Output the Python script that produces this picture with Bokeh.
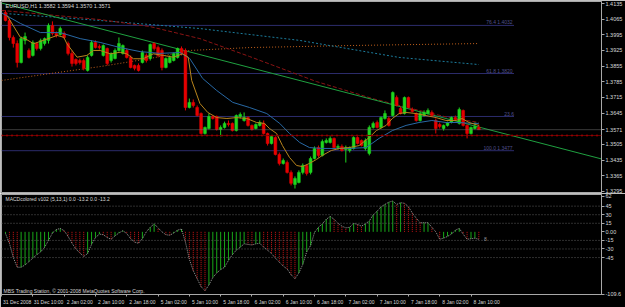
from bokeh.plotting import figure
from bokeh.layouts import column
from bokeh.models import (Range1d, FixedTicker, Label, Span, ColumnDataSource,
                          PrintfTickFormatter, CustomJSTickFormatter)
from bokeh.embed import file_html
from bokeh.resources import INLINE
from bokeh.core.properties import value

# ---------------- data ----------------
symbol = "EURUSD,H1"

bar_open = [1.4095, 1.4059, 1.3983, 1.3956, 1.3871, 1.3970, 1.3925, 1.3903, 1.3956, 1.3934,
            1.3956, 1.3970, 1.4037, 1.4001, 1.3996, 1.4001, 1.3956, 1.3912, 1.3885, 1.3880,
            1.3880, 1.3836, 1.3903, 1.3961, 1.3943, 1.3903, 1.3934, 1.3880, 1.3889, 1.3925,
            1.3912, 1.3925, 1.3894, 1.3858, 1.3858, 1.3871, 1.3903, 1.3889, 1.3956, 1.3938,
            1.3925, 1.3849, 1.3871, 1.3880, 1.3894, 1.3934, 1.3925, 1.3670, 1.3693, 1.3670,
            1.3643, 1.3554, 1.3576, 1.3630, 1.3630, 1.3572, 1.3581, 1.3599, 1.3599, 1.3567,
            1.3630, 1.3612, 1.3625, 1.3590, 1.3576, 1.3590, 1.3599, 1.3554, 1.3509, 1.3536,
            1.3460, 1.3420, 1.3424, 1.3380, 1.3326, 1.3335, 1.3380, 1.3411, 1.3380, 1.3442,
            1.3491, 1.3456, 1.3514, 1.3514, 1.3532, 1.3491, 1.3496, 1.3482, 1.3478, 1.3487,
            1.3536, 1.3523, 1.3487, 1.3465, 1.3581, 1.3603, 1.3581, 1.3621, 1.3621, 1.3634,
            1.3715, 1.3666, 1.3643, 1.3715, 1.3661, 1.3643, 1.3612, 1.3634, 1.3643, 1.3648,
            1.3612, 1.3594, 1.3576, 1.3590, 1.3603, 1.3625, 1.3599, 1.3657, 1.3590, 1.3554,
            1.3576, 1.3582]
bar_high = [1.4104, 1.4068, 1.3992, 1.3970, 1.3987, 1.4005, 1.3934, 1.3970, 1.3961, 1.3978,
            1.3983, 1.4046, 1.4055, 1.4010, 1.4032, 1.4010, 1.3965, 1.3925, 1.3889, 1.3889,
            1.3889, 1.3903, 1.3970, 1.3970, 1.3952, 1.3952, 1.3938, 1.3916, 1.3934, 1.3983,
            1.3952, 1.3934, 1.3903, 1.3862, 1.3867, 1.3925, 1.3912, 1.3956, 1.3961, 1.3947,
            1.3934, 1.3894, 1.3903, 1.3916, 1.3938, 1.3943, 1.3934, 1.3710, 1.3706, 1.3679,
            1.3648, 1.3585, 1.3643, 1.3634, 1.3634, 1.3590, 1.3607, 1.3612, 1.3603, 1.3639,
            1.3648, 1.3648, 1.3630, 1.3594, 1.3599, 1.3612, 1.3612, 1.3558, 1.3545, 1.3541,
            1.3469, 1.3442, 1.3433, 1.3389, 1.3362, 1.3389, 1.3420, 1.3415, 1.3451, 1.3496,
            1.3500, 1.3527, 1.3532, 1.3541, 1.3536, 1.3505, 1.3505, 1.3500, 1.3496, 1.3541,
            1.3541, 1.3527, 1.3532, 1.3590, 1.3607, 1.3612, 1.3630, 1.3657, 1.3630, 1.3742,
            1.3724, 1.3675, 1.3719, 1.3719, 1.3670, 1.3648, 1.3652, 1.3657, 1.3666, 1.3657,
            1.3621, 1.3603, 1.3594, 1.3607, 1.3630, 1.3634, 1.3670, 1.3661, 1.3594, 1.3585,
            1.3603, 1.3594]
bar_low = [1.4055, 1.3970, 1.3938, 1.3849, 1.3867, 1.3952, 1.3889, 1.3898, 1.3925, 1.3925,
           1.3947, 1.3956, 1.3992, 1.3983, 1.3992, 1.3978, 1.3903, 1.3853, 1.3858, 1.3862,
           1.3836, 1.3831, 1.3898, 1.3934, 1.3929, 1.3898, 1.3858, 1.3871, 1.3885, 1.3920,
           1.3907, 1.3889, 1.3845, 1.3836, 1.3831, 1.3867, 1.3871, 1.3880, 1.3925, 1.3894,
           1.3836, 1.3845, 1.3867, 1.3876, 1.3889, 1.3903, 1.3657, 1.3666, 1.3670, 1.3630,
           1.3549, 1.3549, 1.3572, 1.3616, 1.3567, 1.3541, 1.3576, 1.3585, 1.3563, 1.3563,
           1.3621, 1.3607, 1.3585, 1.3567, 1.3572, 1.3585, 1.3549, 1.3500, 1.3505, 1.3456,
           1.3411, 1.3415, 1.3375, 1.3322, 1.3308, 1.3331, 1.3371, 1.3366, 1.3371, 1.3438,
           1.3447, 1.3451, 1.3509, 1.3509, 1.3487, 1.3482, 1.3473, 1.3424, 1.3469, 1.3482,
           1.3505, 1.3496, 1.3478, 1.3456, 1.3576, 1.3576, 1.3576, 1.3616, 1.3585, 1.3630,
           1.3675, 1.3639, 1.3639, 1.3666, 1.3648, 1.3607, 1.3607, 1.3630, 1.3639, 1.3630,
           1.3554, 1.3576, 1.3567, 1.3585, 1.3599, 1.3612, 1.3594, 1.3585, 1.3532, 1.3549,
           1.3572, 1.3570]
bar_close = [1.4059, 1.3983, 1.3956, 1.3871, 1.3978, 1.3987, 1.3894, 1.3961, 1.3934, 1.3970,
             1.3978, 1.4037, 1.4001, 1.3992, 1.4023, 1.3983, 1.3912, 1.3867, 1.3867, 1.3871,
             1.3845, 1.3894, 1.3961, 1.3938, 1.3938, 1.3947, 1.3867, 1.3912, 1.3925, 1.3956,
             1.3947, 1.3894, 1.3849, 1.3845, 1.3836, 1.3916, 1.3880, 1.3952, 1.3934, 1.3903,
             1.3849, 1.3889, 1.3894, 1.3912, 1.3934, 1.3912, 1.3670, 1.3693, 1.3679, 1.3634,
             1.3554, 1.3581, 1.3630, 1.3621, 1.3572, 1.3581, 1.3599, 1.3594, 1.3567, 1.3634,
             1.3639, 1.3625, 1.3590, 1.3572, 1.3594, 1.3603, 1.3554, 1.3509, 1.3541, 1.3460,
             1.3420, 1.3433, 1.3380, 1.3331, 1.3353, 1.3380, 1.3411, 1.3375, 1.3442, 1.3487,
             1.3456, 1.3518, 1.3523, 1.3532, 1.3491, 1.3496, 1.3478, 1.3491, 1.3491, 1.3536,
             1.3509, 1.3500, 1.3523, 1.3581, 1.3599, 1.3581, 1.3625, 1.3643, 1.3590, 1.3737,
             1.3679, 1.3643, 1.3715, 1.3670, 1.3652, 1.3612, 1.3643, 1.3648, 1.3657, 1.3634,
             1.3576, 1.3585, 1.3590, 1.3603, 1.3625, 1.3616, 1.3661, 1.3590, 1.3554, 1.3581,
             1.3585, 1.3571]

macd_hist = [-3, -20, -45, -62, -62, -58, -52, -46, -40, -35,
             -27, -15, -2, 4, 6, 2, -8, -20, -30, -37,
             -43, -38, -22, -10, -4, -5, -10, -13, -7, -2,
             2, -3, -12, -18, -20, -12, 0, 8, 14, 7,
             0, -5, -6, -2, 3, 5, -18, -48, -68, -82,
             -96, -103, -93, -80, -72, -66, -62, -50, -40, -32,
             -27, -21, -22, -23, -21, -20, -27, -32, -38, -46,
             -53, -60, -65, -75, -82, -72, -57, -35, -24, -1,
             8, 14, 22, 27, 22, 15, 10, 7, 8, 15,
             13, 10, 14, 19, 30, 36, 44, 48, 52, 54,
             48, 51, 50, 44, 33, 24, 16, 16, 16, 8,
             0, -13, -11, -8, -4, 3, 6, -4, -13, -12,
             -11, -13.2]

# moving-average lines, read at points along each line (bar position, price)
ma_fast_bars = [0.4, 3.8, 5.1, 7.2, 13.2, 14.9, 15.7, 18.3, 20.8, 22.5, 24.2, 26.8, 29.3,
                31.0, 32.7, 35.2, 37.8, 40.3, 42.9, 45.3, 46.7, 47.6, 49.7, 51.7, 54.0,
                56.6, 59.1, 61.7, 64.2, 66.2, 67.5, 69.3, 70.8, 72.6, 74.4, 75.9, 77.7,
                79.5, 81.0, 83.3, 85.4, 87.9, 90.4, 93.0, 94.8, 97.3, 98.9, 100.6, 102.4,
                105.0, 107.5, 110.1, 112.6, 115.2, 116.7, 118.5, 121.0]
ma_fast = [1.4081, 1.3984, 1.3977, 1.3955, 1.3992, 1.3984, 1.3955, 1.3895, 1.3903, 1.3925,
           1.3925, 1.3910, 1.3917, 1.3910, 1.3888, 1.3888, 1.3910, 1.3903, 1.3895, 1.3910,
           1.3895, 1.3791, 1.3688, 1.3648, 1.3625, 1.3621, 1.3625, 1.3621, 1.3603, 1.3599,
           1.3576, 1.3554, 1.3500, 1.3447, 1.3411, 1.3406, 1.3420, 1.3438, 1.3456, 1.3478,
           1.3487, 1.3491, 1.3500, 1.3536, 1.3567, 1.3590, 1.3621, 1.3643, 1.3648, 1.3643,
           1.3634, 1.3625, 1.3612, 1.3612, 1.3621, 1.3603, 1.3590]

ma_slow_bars = [-1.0, 3.8, 8.9, 14.0, 19.1, 24.2, 29.3, 34.4, 39.5, 44.6, 47.1, 50.4, 54.0,
                58.1, 62.4, 66.8, 70.1, 72.6, 75.2, 77.7, 81.0, 84.6, 87.9, 92.2, 95.5,
                98.9, 102.4, 105.7, 109.0, 112.6, 115.9, 119.2, 121.0]
ma_slow = [1.4093, 1.4046, 1.4005, 1.4005, 1.3978, 1.3961, 1.3938, 1.3920, 1.3912, 1.3916,
           1.3889, 1.3800, 1.3746, 1.3693, 1.3670, 1.3643, 1.3599, 1.3554, 1.3514, 1.3491,
           1.3487, 1.3487, 1.3487, 1.3491, 1.3532, 1.3567, 1.3590, 1.3603, 1.3612, 1.3603,
           1.3603, 1.3599, 1.3599]

ma_red_bars = [-1.0, 24.2, 36.9, 49.7, 62.4, 79.5, 85.4, 93.8, 105.7, 113.4, 121.0]
ma_red = [1.4104, 1.4063, 1.4032, 1.3978, 1.3898, 1.3786, 1.3755, 1.3710, 1.3657, 1.3625, 1.3603]

ma_orange_bars = [-1.0, 11.5, 24.2, 36.9, 47.1, 62.4, 87.9, 121.0]
ma_orange = [1.3791, 1.3822, 1.3853, 1.3889, 1.3925, 1.3938, 1.3947, 1.3956]

ma_cyan_bars = [0.0, 24.2, 49.7, 75.2, 100.6, 121.0]
ma_cyan = [1.4090, 1.4059, 1.4023, 1.3970, 1.3894, 1.3862]

trend_bars = [-1.0, 152.4]
trend_prices = [1.4137, 1.3440]

fib_levels = [1.4037, 1.3822, 1.3630, 1.3477]
fib_labels = ["76.4  1.4032", "61.8  1.3820", "23.6", "100.0  1.3477"]
fib_bars = [-1.0, 130.0]

order_level = 1.3545

price_ticks = [1.4135, 1.4065, 1.3995, 1.3925, 1.3855, 1.3785, 1.3715,
               1.3645, 1.3575, 1.3505, 1.3435, 1.3365, 1.3295]
macd_ticks = [62, 45, 30, 15, 0, -15, -30, -45, -109.6]
macd_levels = [45, 30, 15, -15, -30, -45]

x_label_bars = [-1, 7, 15, 23, 31, 39, 47, 55, 63, 71, 79, 87, 95, 103, 111, 119]
x_labels = ["31 Dec 2008", "31 Dec 10:00", "2 Jan 02:00", "2 Jan 10:00", "2 Jan 18:00",
            "5 Jan 02:00", "5 Jan 10:00", "5 Jan 18:00", "6 Jan 02:00", "6 Jan 10:00",
            "6 Jan 18:00", "7 Jan 02:00", "7 Jan 10:00", "7 Jan 18:00", "8 Jan 02:00",
            "8 Jan 10:00"]

copyright_text = "MBS Trading Station, \u00a9 2001-2008 MetaQuotes Software Corp."

# ---------------- styling ----------------
FONT = "Liberation Sans"
BG = "#000000"
FG = "#a8a8a8"
TXT = "#d8d8d8"
BULL = "#1fd61f"
BEAR = "#e60000"

bars = list(range(len(bar_close)))
x_rng = Range1d(-1.02, 152.36)
y_rng = Range1d(1.32857, 1.41439)


def style_axis(ax, size="5.5px"):
    ax.axis_line_color = FG
    ax.major_tick_line_color = FG
    ax.minor_tick_line_color = None
    ax.major_tick_out = 3
    ax.major_tick_in = 0
    ax.major_label_standoff = 1
    ax.major_label_text_font = FONT
    ax.major_label_text_font_size = size
    ax.major_label_text_color = TXT


# ---------------- price panel ----------------
p = figure(width=625, height=193, x_range=x_rng, y_range=y_rng,
           output_backend="svg", toolbar_location=None,
           x_axis_location=None, y_axis_location="right",
           min_border_left=1, min_border_right=22, min_border_top=1, min_border_bottom=0,
           background_fill_color=BG, border_fill_color=BG, outline_line_color=FG)
p.grid.visible = False
yax = p.yaxis[0]
# the current price replaces the scale label it would cover
axis_ticks = [t for t in price_ticks if abs(t - bar_close[-1]) > 0.0005] + [bar_close[-1]]
yax.ticker = FixedTicker(ticks=axis_ticks)
yax.formatter = PrintfTickFormatter(format="%.4f")
style_axis(yax)

# fibonacci levels
p.segment(x0=[fib_bars[0]] * len(fib_levels), x1=[fib_bars[1]] * len(fib_levels),
          y0=fib_levels, y1=fib_levels, line_color="#2c2c6c", line_width=1)
p.text(x=[fib_bars[1]] * len(fib_levels), y=fib_levels, text=fib_labels,
       text_align="right", text_baseline="bottom", text_font=value(FONT),
       text_font_size="5px", text_color="#50508c")

# bid and order lines
p.add_layout(Span(location=bar_close[-1], dimension="width", line_color="#707070",
                  line_dash="1 1", line_width=1))
p.add_layout(Span(location=order_level, dimension="width", line_color="#6a0000", line_width=1))
p.add_layout(Span(location=order_level, dimension="width", line_color="#c00000",
                  line_dash="1 4", line_width=2))

# long moving averages and trend line
p.line(ma_orange_bars, ma_orange, line_color="#c0601c", line_dash="1 2", line_width=1)
p.line(ma_cyan_bars, ma_cyan, line_color="#1c7c9c", line_dash="2 2", line_width=1)
p.line(ma_red_bars, ma_red, line_color="#8a1414", line_dash="4 2", line_width=1)
p.line(trend_bars, trend_prices, line_color="#1fa040", line_width=1)

# candles
colors = [BULL if c >= o else BEAR for o, c in zip(bar_open, bar_close)]
src = ColumnDataSource(dict(
    x=bars, h=bar_high, l=bar_low,
    top=[max(o, c) for o, c in zip(bar_open, bar_close)],
    bottom=[min(o, c) for o, c in zip(bar_open, bar_close)],
    color=colors))
p.segment(x0="x", x1="x", y0="h", y1="l", line_color="color", line_width=1, source=src)
p.vbar(x="x", top="top", bottom="bottom", width=0.72, fill_color="color",
       line_color="color", line_width=0.5, source=src)

# short moving averages
p.line(ma_slow_bars, ma_slow, line_color="#2868a4", line_width=1)
p.line(ma_fast_bars, ma_fast, line_color="#b8841c", line_width=1)

p.add_layout(Label(x=0, y=1.4124, text="%s  %.4f %.4f %.4f %.4f" % (
    symbol, bar_open[-1], bar_high[-1], bar_low[-1], bar_close[-1]),
    text_font=FONT, text_font_size="5.5px", text_color=TXT, text_baseline="middle"))

# ---------------- MACD panel ----------------
q = figure(width=625, height=114, x_range=x_rng, y_range=Range1d(-109.7, 65.4),
           output_backend="svg", toolbar_location=None,
           x_axis_location="below", y_axis_location="right",
           min_border_left=1, min_border_right=22, min_border_top=1, min_border_bottom=9,
           background_fill_color=BG, border_fill_color=BG, outline_line_color=FG)
q.grid.visible = False
qy = q.yaxis[0]
qy.ticker = FixedTicker(ticks=macd_ticks)
qy.formatter = CustomJSTickFormatter(code="return tick == 0 ? '0.00' : String(tick);")
style_axis(qy)

qx = q.xaxis[0]
label_ticks = [b + 4 for b in x_label_bars]
qx.ticker = FixedTicker(ticks=label_ticks, minor_ticks=x_label_bars)
qx.major_label_overrides = {t: s for t, s in zip(label_ticks, x_labels)}
style_axis(qx, "5px")
qx.major_tick_out = 0
qx.major_tick_line_color = None
qx.minor_tick_line_color = FG
qx.minor_tick_out = 2
qx.minor_tick_in = 0
qx.major_label_standoff = 2

for lv in macd_levels:
    q.add_layout(Span(location=lv, dimension="width", line_color="#5c5c5c",
                      line_dash="1 2", line_width=1))

rising = [i == 0 or macd_hist[i] >= macd_hist[i - 1] for i in range(len(macd_hist))]
g_x = [b for b, r in zip(bars, rising) if r]
g_y = [v for v, r in zip(macd_hist, rising) if r]
r_x = [b for b, r in zip(bars, rising) if not r]
r_y = [v for v, r in zip(macd_hist, rising) if not r]
q.segment(x0=g_x, x1=g_x, y0=[0] * len(g_x), y1=g_y, line_color="#18a818", line_width=1)
q.segment(x0=r_x, x1=r_x, y0=[0] * len(r_x), y1=r_y, line_color="#c81414",
          line_dash="1 1", line_width=1)
q.line(bars, macd_hist, line_color="#9a9a9a", line_dash="1 1", line_width=1)

q.add_layout(Label(x=0, y=57, text="MACDcolored v102 (5,13,1) 0.0 %.1f 0.0 %.1f" % (
    macd_hist[-1], macd_hist[-1]), text_font=FONT, text_font_size="5px",
    text_color=TXT, text_baseline="middle"))
q.add_layout(Label(x=-0.5, y=-103, text=copyright_text, text_font=FONT,
                   text_font_size="5px", text_color=TXT, text_baseline="middle"))
q.add_layout(Label(x=122.3, y=macd_hist[-1], text="8", text_font=FONT,
                   text_font_size="5px", text_color="#9a9a9a", text_baseline="middle"))

layout = column(p, q, spacing=0)
open("out.html", "w").write(file_html(layout, INLINE))
